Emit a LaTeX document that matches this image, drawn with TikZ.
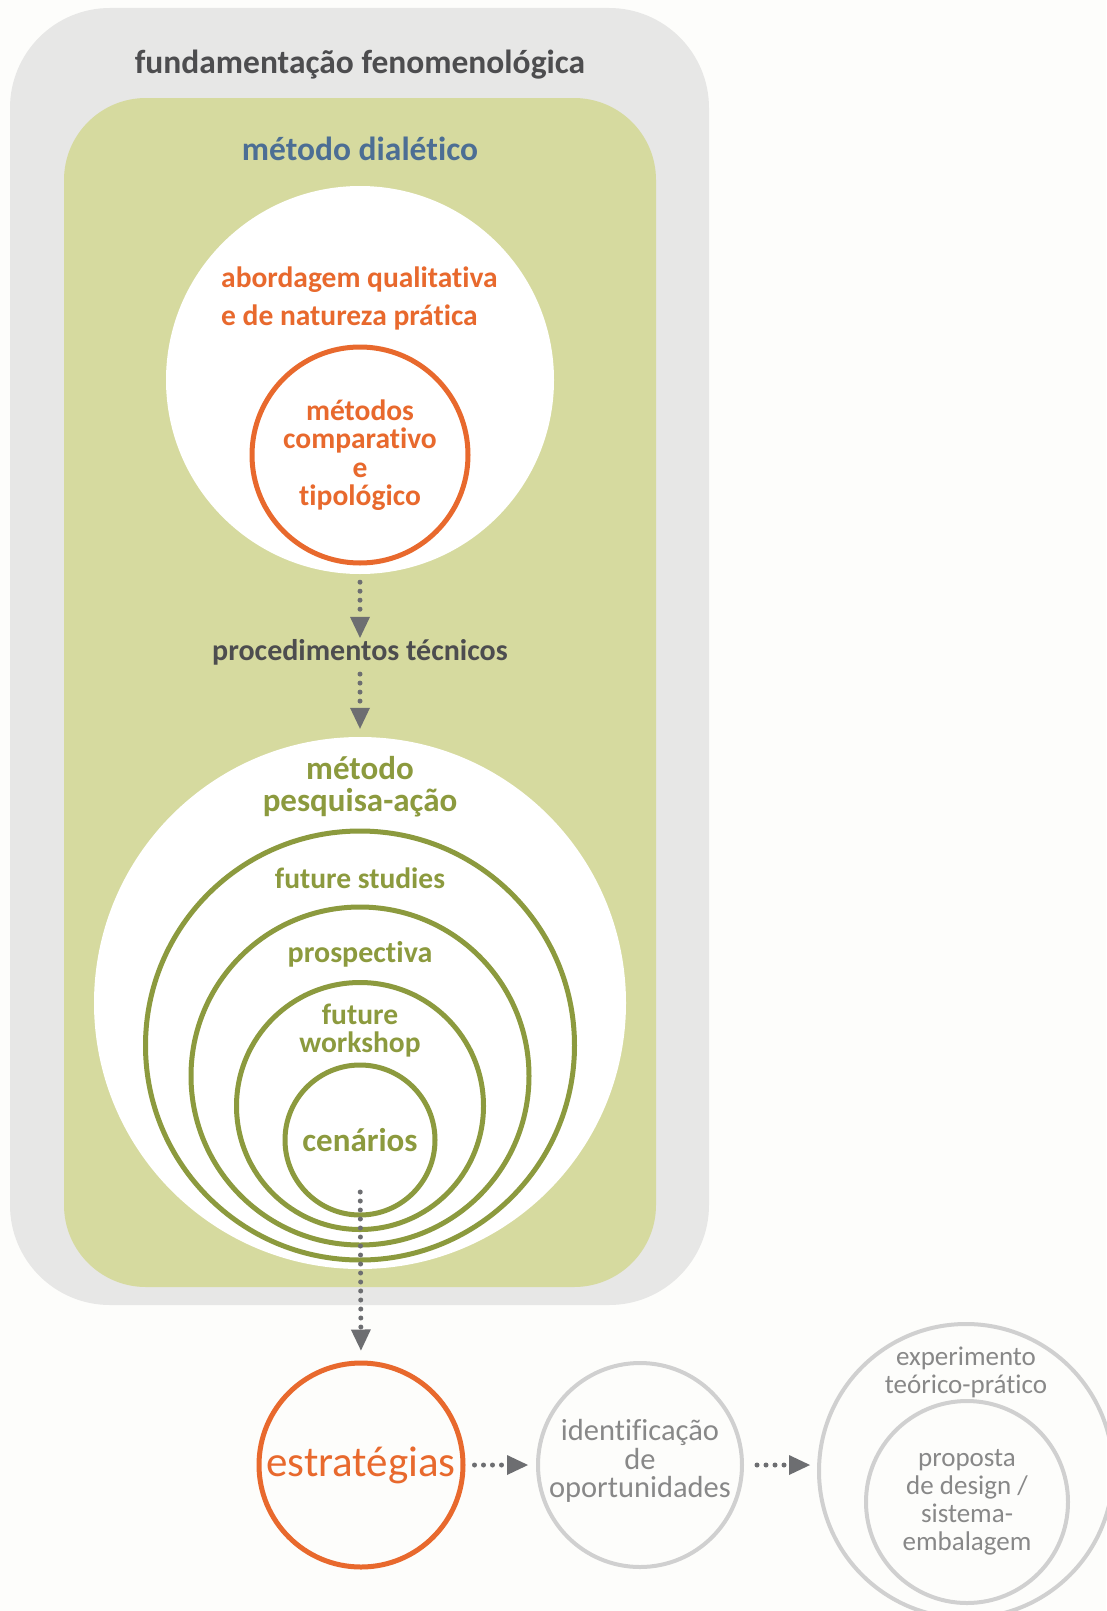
\documentclass[tikz,border=0pt]{standalone}
\usepackage{fontspec}
\setmainfont{Carlito}[Ligatures=NoCommon]
\usetikzlibrary{arrows.meta,positioning}
\definecolor{PaperWhite}{HTML}{FDFDFB}
\definecolor{FrameGray}{HTML}{E7E7E6}
\definecolor{DialGreen}{HTML}{D6DA9F}
\definecolor{OliveRing}{HTML}{8C9A3E}
\definecolor{SignalOrange}{HTML}{E8692D}
\definecolor{DialBlue}{HTML}{4C6E94}
\definecolor{InkGray}{HTML}{4D4D4F}
\definecolor{ArrowGray}{HTML}{6D6E71}
\definecolor{MistGray}{HTML}{D0D0D0}
\definecolor{MistText}{HTML}{888888}
\newcommand{\txtsize}[2]{\fontsize{#1}{#2}\selectfont}

\begin{document}
\begin{tikzpicture}[
    x=1pt, y=-1pt,
    panel/.style={rectangle, inner sep=0pt},
    disc/.style={circle, fill=white, inner sep=0pt},
    ring/.style={circle, draw=OliveRing, line width=5pt, inner sep=0pt},
    mist/.style={circle, draw=MistGray, line width=4pt, inner sep=0pt,
      text=MistText, align=center},
    tag/.style={inner sep=0pt, align=center},
    dotflow/.style={draw=ArrowGray, line width=5pt, line cap=round,
      dash pattern=on 0pt off 9pt,
      -{Triangle[width=20pt,length=21pt,line width=0pt]}}
  ]
    \useasboundingbox (0,0) rectangle (1106,1611);
    \fill[PaperWhite] (0,0) rectangle (1106,1611);

    % frames
    \node[panel, fill=FrameGray, rounded corners=100pt,
      minimum width=699pt, minimum height=1297pt] (fenom) at (359.5,656.5) {};
    \node[panel, fill=DialGreen, rounded corners=82pt,
      minimum width=592pt, minimum height=1189pt] (dialetico) at (360,692.5) {};

    \node[tag, text=InkGray, font=\bfseries\txtsize{33.5}{35}] (fenomtxt) at (360,65)
      {fundamentação fenomenológica};
    \node[tag, text=DialBlue, font=\bfseries\txtsize{33.5}{35}] (dialtxt) at (360,149)
      {método dialético};

    % upper circle
    \node[disc, minimum size=388pt] (qualit) at (360,380) {};
    \node[tag, align=left, anchor=west, text=SignalOrange,
      font=\bfseries\txtsize{29.5}{38}] (qualittxt) at (221,298.5)
      {abordagem qualitativa\\e de natureza prática};
    \node[circle, draw=SignalOrange, line width=5pt, inner sep=0pt,
      minimum size=216pt, text=SignalOrange, align=center,
      font=\bfseries\txtsize{29.5}{28.3}] (tipol) at (360,455)
      {métodos\\comparativo\\e\\tipológico};

    \node[tag, text=InkGray, font=\bfseries\txtsize{30}{32}] (proced) at (360,652)
      {procedimentos técnicos};

    % lower circle with rings
    \node[disc, minimum size=532pt] (pesquisa) at (360,1003) {};
    \node[tag, text=OliveRing, font=\bfseries\txtsize{33}{32}] (pesqtxt) at (360,786.5)
      {método\\pesquisa-ação};
    \node[ring, minimum size=429pt] (studies) at (360,1045.5) {};
    \node[ring, minimum size=338pt] (prosp) at (360,1076) {};
    \node[ring, minimum size=247pt] (workshop) at (360,1106) {};
    \node[ring, minimum size=150pt, text=OliveRing,
      font=\bfseries\txtsize{33}{34}] (cenarios) at (360,1140) {cenários};
    \node[tag, text=OliveRing, font=\bfseries\txtsize{29.5}{32}] (studiestxt) at (360,878)
      {future studies};
    \node[tag, text=OliveRing, font=\bfseries\txtsize{30}{32}] (prosptxt) at (360,954)
      {prospectiva};
    \node[tag, text=OliveRing, font=\bfseries\txtsize{29.5}{28}] (workshoptxt) at (360,1031)
      {future\\workshop};

    % bottom row
    \node[circle, draw=SignalOrange, line width=5pt, inner sep=0pt,
      minimum size=204pt, text=SignalOrange, font=\txtsize{43}{45}] (estrat) at (361,1465)
      {estratégias};
    \node[mist, minimum size=204pt] (oport) at (640,1465) {};
    \node[tag, text=MistText, font=\txtsize{30.5}{28.3}] (oporttxt) at (640,1461)
      {identificação\\de\\oportunidades};
    \node[mist, minimum size=294pt] (experim) at (966,1471) {};
    \node[mist, minimum size=202pt, font=\txtsize{27}{28}] (proposta) at (967,1502)
      {proposta\\de design /\\sistema-\\embalagem};
    \node[tag, text=MistText, font=\txtsize{27}{28}] (experimtxt) at (966,1372)
      {experimento\\teórico-prático};

    % arrows
    \draw[dotflow, shorten <=8pt, shorten >=1pt] (qualit.south) -- (proced.north);
    \draw[dotflow, shorten <=9pt, shorten >=8pt] (proced.south) -- (pesquisa.north);
    \draw[dotflow, shorten <=52pt, shorten >=10pt] (cenarios.center) -- (estrat.north);
    \draw[dotflow, shorten <=9pt, shorten >=8pt] (estrat.east) -- (oport.west);
    \draw[dotflow, shorten <=13pt, shorten >=7pt] (oport.east) -- (oport.east -| experim.west);
  \end{tikzpicture}
\end{document}
